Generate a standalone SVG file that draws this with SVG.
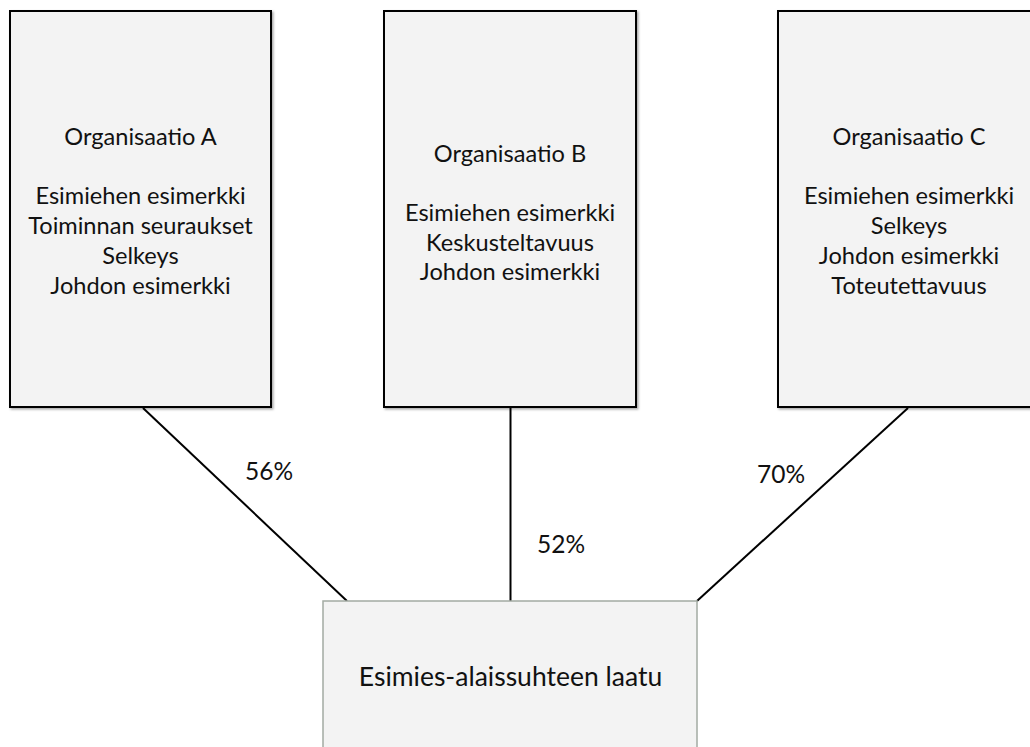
<svg xmlns="http://www.w3.org/2000/svg" width="1030" height="747" viewBox="0 0 1030 747">
  <style>
    .org { fill: #f3f3f3; stroke: #000; stroke-width: 2; filter: url(#shadow); }
    .target { fill: #f3f3f3; stroke: #a3aba3; stroke-width: 1.5; }
    .lbl { font-family: Lato, "Open Sans", sans-serif; font-size: 23.6px; fill: #111; text-anchor: middle; }
    .big { font-size: 26.5px; }
    .pct { font-family: Lato, "Open Sans", sans-serif; font-size: 24.5px; fill: #111; }
    .link { stroke: #000; stroke-width: 2; fill: none; }
  </style>
  <defs>
    <filter id="shadow" x="-5%" y="-5%" width="115%" height="115%">
      <feDropShadow dx="1.5" dy="1.5" stdDeviation="1.2" flood-color="#000" flood-opacity="0.35"/>
    </filter>
  </defs>
  <rect width="1030" height="747" fill="#fff"/>

  <!-- connectors from each organisation to the relationship-quality box -->
  <g id="connectors">
    <line class="link" x1="143" y1="408" x2="347" y2="601"/>
    <line class="link" x1="510.5" y1="408" x2="510.5" y2="601"/>
    <line class="link" x1="908" y1="408" x2="697" y2="601"/>
    <text class="pct" x="245" y="480">56%</text>
    <text class="pct" x="537" y="553">52%</text>
    <text class="pct" x="757" y="483">70%</text>
  </g>

  <g id="org-a">
    <rect class="org" x="10" y="11" width="261" height="396"/>
    <text class="lbl" x="140.5" y="145">Organisaatio A</text>
    <text class="lbl" x="140.5" y="204">Esimiehen esimerkki</text>
    <text class="lbl" x="140.5" y="233.5">Toiminnan seuraukset</text>
    <text class="lbl" x="140.5" y="263.5">Selkeys</text>
    <text class="lbl" x="140.5" y="293.5">Johdon esimerkki</text>
  </g>

  <g id="org-b">
    <rect class="org" x="384" y="11" width="252" height="396"/>
    <text class="lbl" x="510" y="162">Organisaatio B</text>
    <text class="lbl" x="510" y="221">Esimiehen esimerkki</text>
    <text class="lbl" x="510" y="250.5">Keskusteltavuus</text>
    <text class="lbl" x="510" y="280">Johdon esimerkki</text>
  </g>

  <g id="org-c">
    <rect class="org" x="778" y="11" width="262" height="396"/>
    <text class="lbl" x="909" y="145">Organisaatio C</text>
    <text class="lbl" x="909" y="204">Esimiehen esimerkki</text>
    <text class="lbl" x="909" y="233.5">Selkeys</text>
    <text class="lbl" x="909" y="263.5">Johdon esimerkki</text>
    <text class="lbl" x="909" y="293.5">Toteutettavuus</text>
  </g>

  <g id="relationship-quality">
    <rect class="target" x="323" y="601" width="374" height="170"/>
    <text class="lbl big" x="510.5" y="686">Esimies-alaissuhteen laatu</text>
  </g>
</svg>
